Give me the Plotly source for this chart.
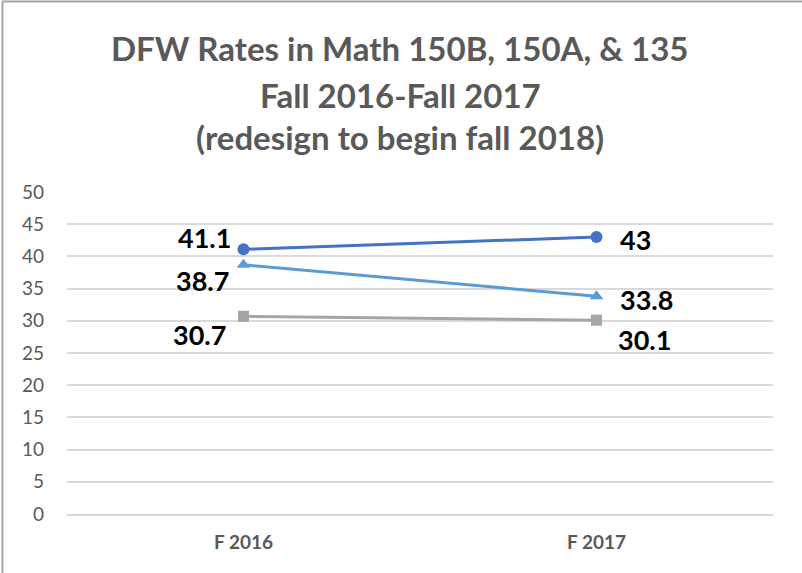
import plotly.graph_objects as go

categories = ["F 2016", "F 2017"]
math150b = [41.1, 43]
math150a = [38.7, 33.8]
math135 = [30.7, 30.1]
title_lines = ["DFW Rates in Math 150B, 150A, & 135", "Fall 2016-Fall 2017", "(redesign to begin fall 2018)"]
y_ticks = list(range(0, 55, 5))

series = [
    (math150b, "#4472C4", "circle", 12, [(-11, 12), (21, -2)]),
    (math150a, "#5B9BD5", "triangle-up", 12, [(-13, -16), (21, -3)]),
    (math135, "#A5A5A5", "square", 11, [(-16, -18), (19, -19)]),
]

fig = go.Figure()
annotations = []
for vals, col, sym, sz, offs in series:
    fig.add_trace(go.Scatter(x=categories, y=vals, mode="lines+markers",
        line=dict(color=col, width=3), marker=dict(symbol=sym, size=sz, color=col),
        cliponaxis=False, showlegend=False))
    for c, v, (dx, dy) in zip(categories, vals, offs):
        annotations.append(dict(x=c, y=v, xref="x", yref="y", text="<b>%s</b>" % v,
            showarrow=False, xanchor="right" if dx < 0 else "left", yanchor="middle",
            xshift=dx, yshift=dy,
            font=dict(family="Lato, sans-serif", size=27, color="#000000")))

for t, yy in zip(title_lines, [48, 95, 137]):
    annotations.append(dict(text="<b>%s</b>" % t, xref="paper", yref="paper",
        x=(400 - 67) / 706.0, y=(514 - yy) / 322.0, xanchor="center", yanchor="middle",
        showarrow=False, font=dict(family="Lato, sans-serif", size=33, color="#595959")))

fig.update_layout(
    width=802, height=573,
    margin=dict(l=67, r=29, t=192, b=59),
    paper_bgcolor="white", plot_bgcolor="white",
    annotations=annotations,
    xaxis=dict(type="category", range=[-0.5, 1.5], showgrid=False, showline=True,
               linecolor="#D9D9D9", linewidth=1.5, ticks="",
               tickfont=dict(family="Lato, sans-serif", size=19, color="#595959", weight="bold"),
               ticklabelstandoff=10, fixedrange=True),
    yaxis=dict(range=[0, 50], tickvals=y_ticks, showgrid=True, gridcolor="#D9D9D9",
               gridwidth=1.5, zeroline=False, showline=False, ticks="",
               tickfont=dict(family="Lato, sans-serif", size=19, color="#595959"),
               ticklabelstandoff=22, fixedrange=True),
    shapes=[
        dict(type="line", xref="paper", yref="paper", x0=-65/706, x1=800/706,
             y0=(514 - 1.5) / 322, y1=(514 - 1.5) / 322, line=dict(color="#A6A6A6", width=2)),
        dict(type="line", xref="paper", yref="paper", x0=-64.5/706, x1=-64.5/706,
             y0=(514 - 1.5) / 322, y1=-60/322, line=dict(color="#A6A6A6", width=2)),
    ],
)
fig.write_html("out.html", config={"displayModeBar": False},
               post_script="document.body.style.margin='0';")
